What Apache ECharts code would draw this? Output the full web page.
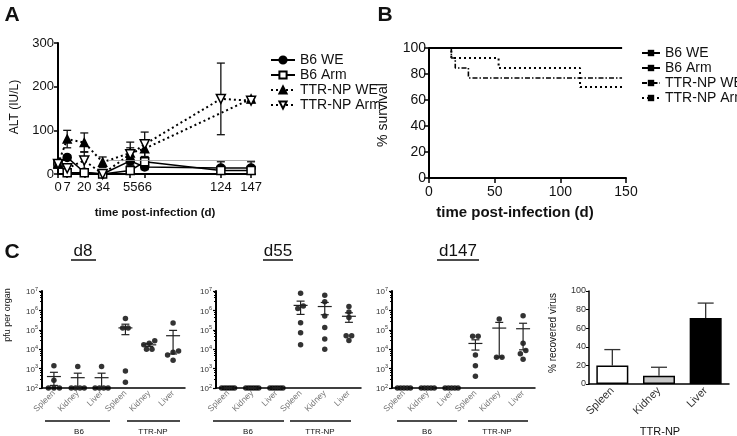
<!DOCTYPE html>
<html><head><meta charset="utf-8">
<script src="https://cdn.jsdelivr.net/npm/echarts@6/dist/echarts.min.js"></script>
<style>html,body{margin:0;padding:0;background:#fff}#c{width:737px;height:436px}</style>
</head><body><div id="c"></div>
<script>
const FONT = 'Liberation Sans, Arial, Helvetica, sans-serif';

// ---------- Panel A : ALT ----------
const altDays = [0, 7, 20, 34, 55, 66, 124, 147];
const altNames = ['B6 WE', 'B6 Arm', 'TTR-NP WE', 'TTR-NP Arm'];
const altB6WE = [23, 38, 4, 0, 30, 16, 14, 14];
const altB6Arm = [23, 3, 3, 0, 8, 28, 8, 8];
const altTtrWE = [23, 80, 72, 27, 48, 58, null, 172];
const altTtrArm = [23, 13, 31, 0, 45, 68, 172, 168];
const altErrB6WE = [0, 5, 3, 0, 10, 6, 14, 14];
const altErrB6Arm = [0, 3, 2, 0, 5, 8, 4, 4];
const altErrTtrWE = [0, 20, 22, 12, 25, 20, null, 5];
const altErrTtrArm = [0, 8, 20, 0, 15, 28, 82, 5];
const altNormal = 32;

// ---------- Panel B : survival ----------
const survNames = ['B6 WE ', 'B6 Arm ', 'TTR-NP WE ', 'TTR-NP Arm '];
const survTimesB6 = [0, 147];
const survB6 = [100, 100];
const survTimesTtrWE = [0, 17, 20, 30, 147];
const survTtrWE = [100, 92.3, 84.6, 76.9, 76.9];
const survTimesTtrArm = [0, 17, 53, 115, 147];
const survTtrArm = [100, 92.3, 84.6, 70, 70];

// ---------- Panel C : virus titres (pfu per organ) ----------
const organs = ['Spleen', 'Kidney', 'Liver', 'Spleen', 'Kidney', 'Liver'];
const groupNames = ['B6', 'TTR-NP'];
const panelTitles = ['d8', 'd55', 'd147'];
const pfuD8 = [
  [1400, 250, 100, 100, 100],
  [1300, 100, 100, 100, 100],
  [1300, 100, 100, 100, 100],
  [380000, 123000, 123000, 760, 200],
  [27000, 20000, 17000, 10000, 10000],
  [225000, 8000, 7000, 5000, 2700]
];
const pfuD55 = [
  [100, 100, 100, 100, 100, 100],
  [100, 100, 100, 100, 100, 100],
  [100, 100, 100, 100, 100, 100],
  [7600000, 1700000, 1260000, 230000, 70000, 17000],
  [6000000, 2800000, 520000, 130000, 34000, 10000],
  [1600000, 830000, 430000, 50000, 50000, 28000]
];
const pfuD147 = [
  [100, 100, 100, 100, 100],
  [100, 100, 100, 100, 100],
  [100, 100, 100, 100, 100],
  [46000, 46000, 5000, 1400, 400],
  [360000, 3900, 3900],
  [530000, 20000, 8500, 5800, 3000]
];

// ---------- Panel C4 : % recovered virus ----------
const recOrgans = ['Spleen', 'Kidney', 'Liver'];
const recPct = [20, 9, 71];
const recErr = [17, 9, 16];
const recColors = ['#ffffff', '#c8c8c8', '#000000'];

// ================= helpers =================
function swarm(vals) {
  const idx = vals.map((v, i) => i).sort((a, b) => vals[a] - vals[b]);
  const offs = new Array(vals.length).fill(0);
  let group = [idx[0]];
  const flush = () => {
    const n = group.length;
    const s = n <= 3 ? 5.5 : Math.min(5.5, 13 / (n - 1));
    group.forEach((j, k) => { offs[j] = (k - (n - 1) / 2) * s; });
  };
  for (let k = 1; k < idx.length; k++) {
    if (Math.log10(vals[idx[k]]) - Math.log10(vals[idx[k - 1]]) < 0.22) group.push(idx[k]);
    else { flush(); group = [idx[k]]; }
  }
  flush();
  return offs;
}
function stats(vals) {
  const n = vals.length;
  const m = vals.reduce((a, b) => a + b, 0) / n;
  const sd = Math.sqrt(vals.reduce((a, b) => a + (b - m) * (b - m), 0) / (n - 1));
  const se = sd / Math.sqrt(n);
  return [m, Math.max(100, m - se), m + se];
}
const blackLine = { lineStyle: { color: '#000', width: 2 } };

const grids = [
  { left: 58, top: 43, width: 197, height: 131 },   // A
  { left: 429, top: 48, width: 197, height: 130 },  // B
  { left: 42, top: 291, width: 143, height: 97 },   // C d8
  { left: 216, top: 291, width: 145, height: 97 },  // C d55
  { left: 392, top: 291, width: 143, height: 97 },  // C d147
  { left: 589, top: 291, width: 140, height: 93 }   // C recovered
];

const xAxes = [], yAxes = [], series = [];

// ---- A axes
xAxes.push({
  gridIndex: 0, type: 'value', min: 0, max: 150,
  axisLine: blackLine, splitLine: { show: false },
  axisTick: { customValues: altDays, length: 4, lineStyle: { color: '#000', width: 1.5 } },
  axisLabel: { customValues: altDays, fontSize: 13, color: '#111', fontFamily: FONT, margin: 7 }
});
yAxes.push({
  gridIndex: 0, type: 'value', min: 0, max: 300, interval: 100,
  axisLine: { show: true, lineStyle: { color: '#000', width: 2 } }, splitLine: { show: false },
  axisTick: { show: true, length: 4, lineStyle: { color: '#000', width: 1.5 } },
  axisLabel: { fontSize: 13, color: '#111', fontFamily: FONT, margin: 4 }
});

const aDefs = [
  { name: altNames[0], vals: altB6WE, err: altErrB6WE, symbol: 'circle', fill: '#000', dash: 'solid', w: 1.5, size: 8 },
  { name: altNames[1], vals: altB6Arm, err: altErrB6Arm, symbol: 'rect', fill: '#fff', dash: 'solid', w: 1.5, size: 8 },
  { name: altNames[2], vals: altTtrWE, err: altErrTtrWE, symbol: 'triangle', fill: '#000', dash: [2, 3], w: 2, size: 8 },
  { name: altNames[3], vals: altTtrArm, err: altErrTtrArm, symbol: 'path://M0,0 L10,0 L5,9 Z', fill: '#fff', dash: [2, 3], w: 2, size: 9 }
];
const aErrData = [];
aDefs.forEach(d => {
  altDays.forEach((day, i) => {
    if (d.vals[i] != null && d.err[i]) aErrData.push([day, d.vals[i], Math.max(0, d.vals[i] - d.err[i]), d.vals[i] + d.err[i]]);
  });
});
series.push({
  type: 'custom', xAxisIndex: 0, yAxisIndex: 0, z: 1, silent: true,
  encode: { x: 0, y: [1, 2, 3] }, data: aErrData,
  renderItem(params, api) {
    const lo = api.coord([api.value(0), api.value(2)]);
    const hi = api.coord([api.value(0), api.value(3)]);
    const x = lo[0], st = { stroke: '#111', lineWidth: 1.3 };
    return { type: 'group', children: [
      { type: 'line', shape: { x1: x, y1: lo[1], x2: x, y2: hi[1] }, style: st },
      { type: 'line', shape: { x1: x - 4, y1: lo[1], x2: x + 4, y2: lo[1] }, style: st },
      { type: 'line', shape: { x1: x - 4, y1: hi[1], x2: x + 4, y2: hi[1] }, style: st }
    ] };
  }
});
aDefs.forEach((d, k) => {
  const s = {
    name: d.name, type: 'line', xAxisIndex: 0, yAxisIndex: 0, z: 3,
    data: altDays.map((day, i) => [day, d.vals[i]]), connectNulls: true,
    symbol: d.symbol, symbolSize: d.size, showAllSymbol: true,
    itemStyle: { color: d.fill, borderColor: '#000', borderWidth: 1.5 },
    lineStyle: { color: '#000', width: d.w, type: d.dash },
    emphasis: { disabled: true }
  };
  if (k === 0) {
    s.markLine = { silent: true, symbol: 'none', label: { show: false },
      lineStyle: { color: '#999', width: 0.8, type: 'solid' },
      data: [[{ coord: [38, altNormal] }, { coord: [150, altNormal] }]] };
  }
  series.push(s);
});

// ---- B axes
xAxes.push({
  gridIndex: 1, type: 'value', min: 0, max: 150, interval: 50,
  axisLine: blackLine, splitLine: { show: false },
  axisTick: { length: 5, lineStyle: { color: '#000', width: 1.5 } },
  axisLabel: { fontSize: 14, color: '#111', fontFamily: FONT, margin: 7 }
});
yAxes.push({
  gridIndex: 1, type: 'value', min: 0, max: 100, interval: 20,
  axisLine: { show: true, lineStyle: { color: '#000', width: 2 } }, splitLine: { show: false },
  axisTick: { show: true, length: 5, lineStyle: { color: '#000', width: 1.5 } },
  axisLabel: { fontSize: 14, color: '#111', fontFamily: FONT, margin: 3 }
});
const tickSym = 'path://M0,0 L1,0 L1,10 L0,10 Z';
const bDefs = [
  { name: survNames[0], t: survTimesB6, v: survB6, dash: 'solid', w: 1.8 },
  { name: survNames[1], t: survTimesB6, v: survB6, dash: 'solid', w: 1.8 },
  { name: survNames[2], t: survTimesTtrWE, v: survTtrWE, dash: [5, 2, 1.5, 2], w: 1.6 },
  { name: survNames[3], t: survTimesTtrArm, v: survTtrArm, dash: [2, 3], w: 2 }
];
bDefs.forEach(d => {
  series.push({
    name: d.name, type: 'line', step: 'end', xAxisIndex: 1, yAxisIndex: 1,
    data: d.t.map((t, i) => [t, d.v[i]]), symbol: tickSym, symbolSize: [1.5, 6],
    showSymbol: false,
    lineStyle: { color: '#000', width: d.w, type: d.dash }, itemStyle: { color: '#000' },
    emphasis: { disabled: true }
  });
});

// ---- C time-course panels
const logLabel = {
  fontSize: 8, color: '#333', fontFamily: FONT, margin: 4,
  formatter: v => '{b|10}{s|' + Math.round(Math.log10(v)) + '}',
  rich: { b: { fontSize: 8, fontFamily: FONT, color: '#333', verticalAlign: 'bottom' },
          s: { fontSize: 5.5, fontFamily: FONT, color: '#333', verticalAlign: 'top', padding: [0, 0, 4, 0] } }
};
[pfuD8, pfuD55, pfuD147].forEach((panel, p) => {
  const gi = 2 + p;
  xAxes.push({
    gridIndex: gi, type: 'category', data: organs,
    axisLine: { lineStyle: { color: '#000', width: 1.5 } },
    axisTick: { alignWithLabel: true, length: 3, lineStyle: { color: '#000' } },
    axisLabel: { rotate: 45, interval: 0, fontSize: 8.5, color: '#777', fontFamily: FONT, margin: 4 }
  });
  yAxes.push({
    gridIndex: gi, type: 'log', logBase: 10, min: 100, max: 1e7, splitNumber: 5,
    axisLine: { show: true, lineStyle: { color: '#000', width: 2 } }, splitLine: { show: false },
    axisTick: { show: true, length: 3, lineStyle: { color: '#000', width: 1.2 } },
    minorTick: { show: true, splitNumber: 5, length: 2, lineStyle: { color: '#000', width: 1 } },
    axisLabel: logLabel
  });
  const pts = [], sums = [];
  panel.forEach((vals, c) => {
    const offs = swarm(vals);
    vals.forEach((v, i) => pts.push({ value: [c, v], symbolOffset: [offs[i], 0] }));
    const st = stats(vals);
    sums.push([c, st[0], st[1], st[2]]);
  });
  series.push({
    type: 'scatter', xAxisIndex: gi, yAxisIndex: gi, data: pts, symbolSize: 5.5,
    itemStyle: { color: '#000' }, z: 3, emphasis: { disabled: true }, silent: true
  });
  series.push({
    type: 'custom', xAxisIndex: gi, yAxisIndex: gi, data: sums, z: 4, silent: true,
    encode: { x: 0, y: [1, 2, 3] },
    renderItem(params, api) {
      const c = api.value(0);
      const pm = api.coord([c, api.value(1)]);
      const plo = api.coord([c, api.value(2)]);
      const phi = api.coord([c, api.value(3)]);
      const x = pm[0], st = { stroke: '#222', lineWidth: 1.2 };
      return { type: 'group', children: [
        { type: 'line', shape: { x1: x - 7, y1: pm[1], x2: x + 7, y2: pm[1] }, style: st },
        { type: 'line', shape: { x1: x, y1: plo[1], x2: x, y2: phi[1] }, style: st },
        { type: 'line', shape: { x1: x - 4, y1: plo[1], x2: x + 4, y2: plo[1] }, style: st },
        { type: 'line', shape: { x1: x - 4, y1: phi[1], x2: x + 4, y2: phi[1] }, style: st }
      ] };
    }
  });
});

// ---- C recovered %
xAxes.push({
  gridIndex: 5, type: 'category', data: recOrgans,
  axisLine: { lineStyle: { color: '#000', width: 1.5 } },
  axisTick: { show: false },
  axisLabel: { rotate: 45, interval: 0, fontSize: 11, color: '#333', fontFamily: FONT, margin: 5 }
});
yAxes.push({
  gridIndex: 5, type: 'value', min: 0, max: 100, interval: 20,
  axisLine: { show: true, lineStyle: { color: '#000', width: 1.5 } }, splitLine: { show: false },
  axisTick: { show: true, length: 3, lineStyle: { color: '#000' } },
  axisLabel: { fontSize: 9, color: '#333', fontFamily: FONT, margin: 3 }
});
series.push({
  type: 'bar', xAxisIndex: 5, yAxisIndex: 5, barWidth: 32, z: 3,
  data: recPct.map((v, i) => ({ value: v, itemStyle: { color: recColors[i], borderColor: '#000', borderWidth: 1.5 } })),
  emphasis: { disabled: true }, silent: true
});
series.push({
  type: 'custom', xAxisIndex: 5, yAxisIndex: 5, z: 2, silent: true,
  encode: { x: 0, y: [1, 2] },
  data: recPct.map((v, i) => [i, v, v + recErr[i]]),
  renderItem(params, api) {
    const b = api.coord([api.value(0), api.value(1)]);
    const t = api.coord([api.value(0), api.value(2)]);
    const x = b[0], st = { stroke: '#333', lineWidth: 1.3 };
    return { type: 'group', children: [
      { type: 'line', shape: { x1: x, y1: b[1], x2: x, y2: t[1] }, style: st },
      { type: 'line', shape: { x1: x - 8, y1: t[1], x2: x + 8, y2: t[1] }, style: st }
    ] };
  }
});

// ---- texts & decorations
function txt(text, x, y, size, opts) {
  return Object.assign({ type: 'text', x, y, silent: true,
    style: Object.assign({ text, fontSize: size, fontFamily: FONT, fill: '#111', align: 'center', verticalAlign: 'middle' }, (opts && opts.style) || {}) },
    opts && opts.rotation ? { rotation: opts.rotation } : {});
}
function ln(x1, y1, x2, y2, w) {
  return { type: 'line', silent: true, shape: { x1, y1, x2, y2 }, style: { stroke: '#111', lineWidth: w || 1.3 } };
}
const R = Math.PI / 2;
const graphics = [
  txt('A', 12, 15, 21, { style: { fontWeight: 'bold' } }),
  txt('B', 385, 15, 21, { style: { fontWeight: 'bold' } }),
  txt('C', 12, 252, 21, { style: { fontWeight: 'bold' } }),
  txt('ALT (IU/L)', 15, 107, 12, { rotation: R }),
  txt('time post-infection (d)', 155, 213, 11.5, { style: { fontWeight: 'bold' } }),
  txt('% survival', 383, 115, 14, { rotation: R }),
  txt('time post-infection (d)', 515, 213, 15, { style: { fontWeight: 'bold' } }),
  txt('pfu per organ', 8, 315, 9, { rotation: R }),
  txt('% recovered virus', 553, 333, 10, { rotation: R }),
  txt('TTR-NP', 660, 432, 11),
  txt(panelTitles[0], 83, 251, 17),
  ln(71, 260, 96, 260, 1.5),
  txt(panelTitles[1], 278, 251, 17),
  ln(263, 260, 293, 260, 1.5),
  txt(panelTitles[2], 458, 251, 17),
  ln(437, 260, 479, 260, 1.5),
  // group brackets
  ln(45, 421, 110, 421), ln(127, 421, 180, 421),
  txt(groupNames[0], 79, 432, 8), txt(groupNames[1], 153, 432, 8),
  ln(213, 421, 284, 421), ln(290, 421, 351, 421),
  txt(groupNames[0], 248, 432, 8), txt(groupNames[1], 320, 432, 8),
  ln(397, 421, 457, 421), ln(468, 421, 528, 421),
  txt(groupNames[0], 427, 432, 8), txt(groupNames[1], 497, 432, 8)
];

const chart = echarts.init(document.getElementById('c'));
chart.setOption({
  backgroundColor: '#fff',
  animation: false,
  textStyle: { fontFamily: FONT },
  grid: grids,
  xAxis: xAxes,
  yAxis: yAxes,
  legend: [
    { data: altNames, orient: 'vertical', left: 265, top: 48, itemWidth: 24, itemHeight: 9, itemGap: 1,
      textStyle: { fontSize: 14, color: '#111', fontFamily: FONT }, selectedMode: false },
    { data: survNames, orient: 'vertical', left: 636, top: 41, itemWidth: 18, itemHeight: 8, itemGap: 1,
      textStyle: { fontSize: 14, color: '#111', fontFamily: FONT }, selectedMode: false }
  ],
  graphic: graphics,
  series: series
});
</script></body></html>
